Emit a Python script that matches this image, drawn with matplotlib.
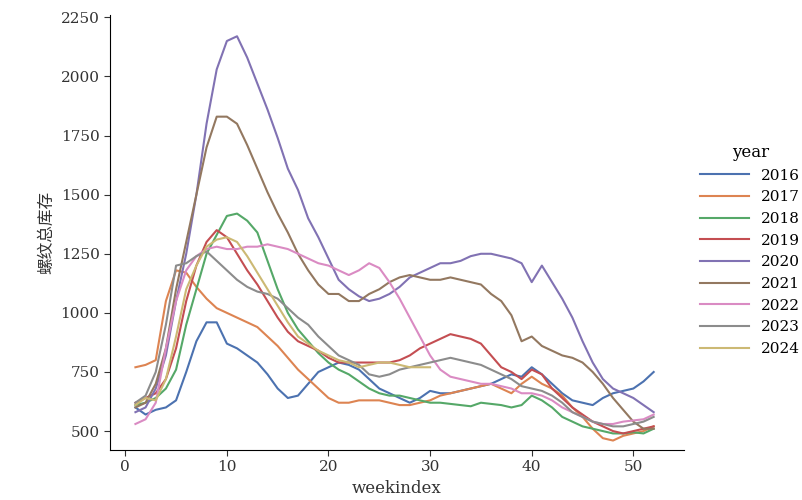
import numpy as np
import matplotlib.pyplot as plt

weeks = list(range(1, 53))
years = ["2016", "2017", "2018", "2019", "2020", "2021", "2022", "2023", "2024"]

s2016 = [600, 570, 590, 600, 630, 750, 880, 960, 960, 870, 850, 820, 790, 740, 680, 640, 650, 700, 750, 770, 790, 780, 760, 720, 680, 660,
         640, 620, 640, 670, 660, 660, 670, 680, 690, 700, 720, 740, 730, 770, 740, 700, 660, 630, 620, 610, 640, 660, 670, 680, 710, 750]
s2017 = [770, 780, 800, 1050, 1180, 1170, 1110, 1060, 1020, 1000, 980, 960, 940, 900, 860, 810, 760, 720, 680, 640, 620, 620, 630, 630, 630, 620,
         610, 610, 620, 630, 650, 660, 670, 680, 690, 700, 680, 660, 700, 730, 700, 680, 650, 600, 560, 510, 470, 460, 480, 490, 500, 520]
s2018 = [610, 620, 640, 680, 760, 950, 1100, 1250, 1330, 1410, 1420, 1390, 1340, 1220, 1100, 1000, 930, 880, 830, 790, 760, 740, 710, 680, 660, 650,
         650, 640, 630, 620, 620, 615, 610, 605, 620, 615, 610, 600, 610, 650, 630, 600, 560, 540, 520, 510, 500, 490, 490, 495, 490, 510]
s2019 = [620, 640, 660, 720, 850, 1050, 1200, 1300, 1350, 1320, 1250, 1180, 1120, 1050, 980, 920, 880, 860, 840, 810, 790, 790, 790, 790, 790, 790,
         800, 820, 850, 870, 890, 910, 900, 890, 870, 820, 770, 750, 720, 760, 740, 680, 640, 600, 570, 540, 520, 500, 490, 500, 510, 520]
s2020 = [580, 600, 680, 820, 1050, 1250, 1500, 1800, 2030, 2150, 2170, 2080, 1970, 1860, 1740, 1610, 1520, 1400, 1320, 1230, 1140, 1100, 1070, 1050, 1060, 1080,
         1110, 1150, 1170, 1190, 1210, 1210, 1220, 1240, 1250, 1250, 1240, 1230, 1210, 1130, 1200, 1130, 1060, 980, 880, 790, 720, 680, 660, 640, 610, 580]
s2021 = [600, 620, 700, 850, 1100, 1300, 1500, 1700, 1830, 1830, 1800, 1710, 1610, 1510, 1420, 1340, 1250, 1180, 1120, 1080, 1080, 1050, 1050, 1080, 1100, 1130,
         1150, 1160, 1150, 1140, 1140, 1150, 1140, 1130, 1120, 1080, 1050, 990, 880, 900, 860, 840, 820, 810, 790, 750, 700, 640, 590, 540, 510, 510]
s2022 = [530, 550, 620, 850, 1050, 1180, 1240, 1270, 1280, 1270, 1270, 1280, 1280, 1290, 1280, 1270, 1250, 1230, 1210, 1200, 1180, 1160, 1180, 1210, 1190, 1130,
         1060, 980, 900, 820, 760, 730, 720, 710, 700, 700, 690, 680, 660, 660, 650, 630, 600, 580, 560, 540, 530, 530, 540, 545, 550, 570]
s2023 = [620, 650, 750, 950, 1200, 1210, 1240, 1260, 1220, 1180, 1140, 1110, 1090, 1080, 1060, 1020, 980, 950, 900, 860, 820, 800, 780, 740, 730, 740,
         760, 770, 780, 790, 800, 810, 800, 790, 780, 760, 740, 720, 690, 680, 670, 650, 620, 580, 560, 540, 530, 520, 520, 530, 540, 560]
s2024 = [610, 640, 630, 720, 900, 1100, 1200, 1280, 1310, 1320, 1300, 1240, 1170, 1100, 1030, 960, 900, 870, 840, 820, 800, 790, 770, 780, 790, 790,
         780, 770, 770, 770]
series = [s2016, s2017, s2018, s2019, s2020, s2021, s2022, s2023, s2024]

# seaborn "deep"
colors = ["#4c72b0", "#dd8452", "#55a868", "#c44e52", "#8172b3",
          "#937860", "#da8bc3", "#8c8c8c", "#ccb974"]

plt.rcParams['font.family'] = ['DejaVu Serif', 'Noto Sans CJK SC']

fig = plt.figure(figsize=(8.03, 5), dpi=100)
ax = fig.add_axes([0.137, 0.1, 0.715, 0.87])
for yr, vals, c in zip(years, series, colors):
    ax.plot(weeks[:len(vals)], vals, color=c, lw=1.5, label=yr)

ax.set_xlim(-1.5, 55)
ax.set_ylim(420, 2260)
ax.set_yticks([500, 750, 1000, 1250, 1500, 1750, 2000, 2250])
ax.set_xticks([0, 10, 20, 30, 40, 50])
ax.spines['top'].set_visible(False)
ax.spines['right'].set_visible(False)
ax.tick_params(colors='#333333', labelsize=11, length=4)
ax.set_xlabel("weekindex", fontsize=12, color='#333333')
ax.set_ylabel("螺纹总库存", fontsize=12, color='#333333', family=['Noto Sans CJK SC'])

leg = fig.legend(loc='center left', bbox_to_anchor=(0.855, 0.5), frameon=False,
                 title="year", fontsize=11, title_fontsize=12, handlelength=3.2)

fig.savefig("out.png", dpi=100)
